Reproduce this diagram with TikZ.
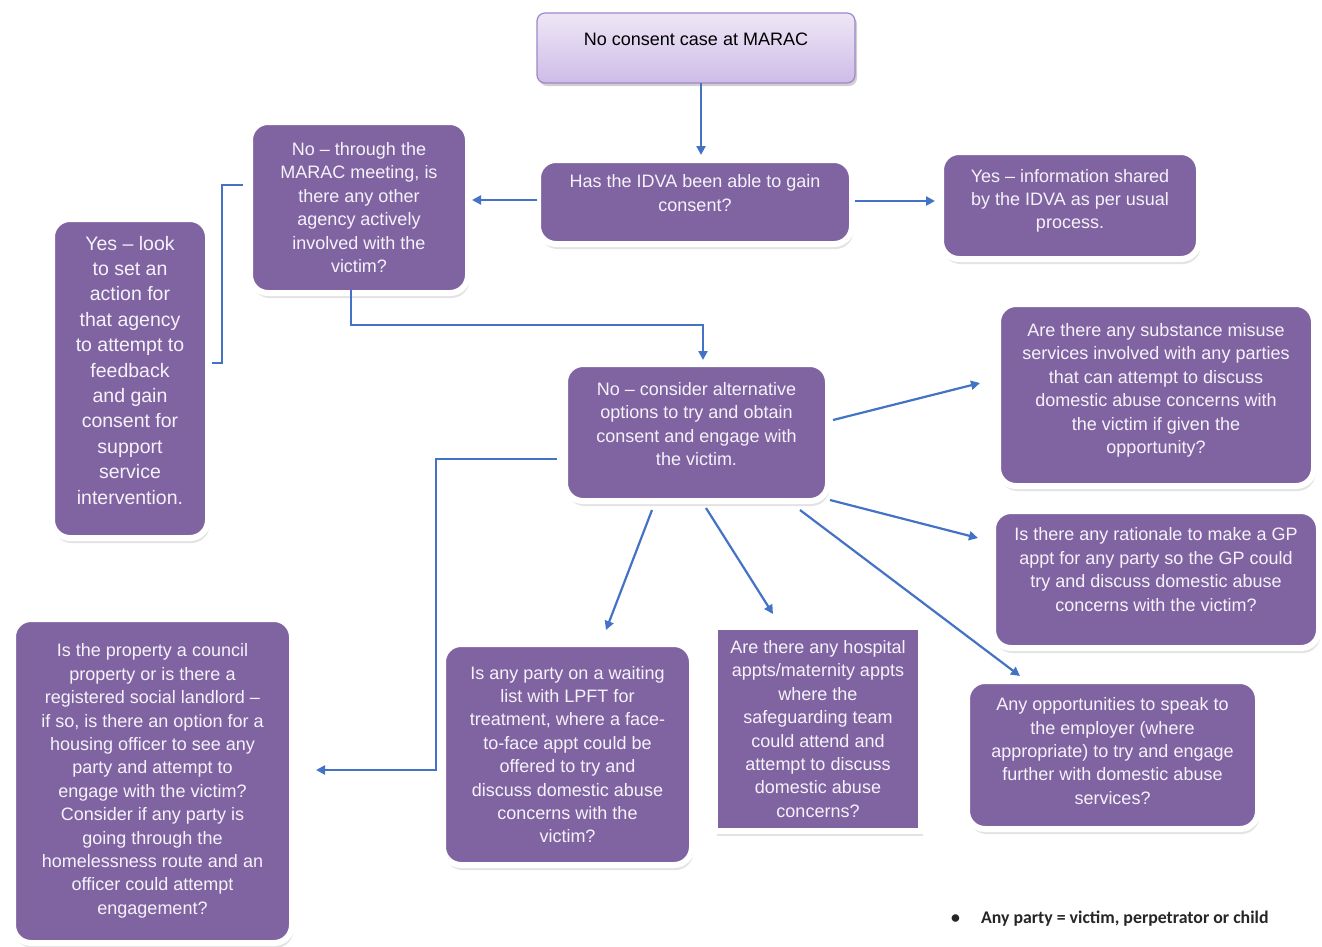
\documentclass[tikz,border=0pt]{standalone}
\usepackage{fontspec}
\setmainfont{Liberation Sans}
\newfontfamily\notefont{Carlito}
\usetikzlibrary{arrows.meta,calc,shadows}
\definecolor{boxpurple}{RGB}{128,100,162}
\definecolor{boxtext}{RGB}{246,242,250}
\definecolor{arrowblue}{RGB}{68,114,196}
\definecolor{topfillA}{RGB}{238,231,246}
\definecolor{topfillB}{RGB}{206,188,231}
\definecolor{topdraw}{RGB}{160,134,200}
% raise the text block of a node: extra depth on its last line
\newcommand\liftby[1]{\rule[-#1]{0pt}{1pt}}
\tikzset{
  pbox/.style={fill=boxpurple, draw=white, line width=6pt, rounded corners=18pt,
    text=boxtext, align=center, inner sep=0pt, outer sep=-3pt,
    font=\fontsize{18}{23.4}\selectfont,
    drop shadow={shadow xshift=1.5pt, shadow yshift=-5pt, opacity=0.18, fill=black!60}},
  sqbox/.style={pbox, rounded corners=0pt},
  topbox/.style={top color=topfillA, bottom color=topfillB, draw=topdraw, line width=1.2pt,
    rounded corners=8pt, align=center, inner sep=0pt, outer sep=0pt, text=black,
    font=\fontsize{18}{23.4}\selectfont,
    drop shadow={shadow xshift=2pt, shadow yshift=-3pt, opacity=0.3, fill=black!60}},
  conn/.style={draw=arrowblue, line width=2.2pt},
  arr/.style={conn, -{Triangle[length=9pt,width=9pt]}},
}
\begin{document}
\begin{tikzpicture}[x=1pt,y=-1pt]
\useasboundingbox[fill=white] (0,0) rectangle (1322,946);

\node[topbox, minimum width=318pt, minimum height=70pt] (top) at (696,48) {No consent case at MARAC\liftby{18pt}};

\node[pbox, minimum width=314pt, minimum height=84pt] (idva) at (695,202)
  {Has the IDVA been able to gain\\consent?\liftby{18pt}};
\node[pbox, minimum width=258pt, minimum height=107pt] (yes) at (1070,205.5)
  {Yes – information shared\\by the IDVA as per usual\\process.\liftby{13pt}};
\node[pbox, minimum width=218pt, minimum height=171pt] (q1) at (359,207.5)
  {No – through the\\MARAC meeting, is\\there any other\\agency actively\\involved with the\\victim?};
\node[pbox, minimum width=156pt, minimum height=319pt, font=\fontsize{19.5}{25.4}\selectfont] (yl) at (130,378.5)
  {Yes – look\\to set an\\action for\\that agency\\to attempt to\\feedback\\and gain\\consent for\\support\\service\\intervention.\liftby{17pt}};
\node[pbox, minimum width=263pt, minimum height=137pt] (nc) at (696.5,432.5)
  {No – consider alternative\\options to try and obtain\\consent and engage with\\the victim.\liftby{17pt}};
\node[pbox, minimum width=316pt, minimum height=182pt] (sub) at (1156,395)
  {Are there any substance misuse\\services involved with any parties\\that can attempt to discuss\\domestic abuse concerns with\\the victim if given the\\opportunity?\liftby{13pt}};
\node[pbox, minimum width=326pt, minimum height=137pt] (gp) at (1156,579.5)
  {Is there any rationale to make a GP\\appt for any party so the GP could\\try and discuss domestic abuse\\concerns with the victim?\liftby{20pt}};
\node[pbox, minimum width=291pt, minimum height=148pt] (emp) at (1112.5,755)
  {Any opportunities to speak to\\the employer (where\\appropriate) to try and engage\\further with domestic abuse\\services?\liftby{8pt}};
\node[sqbox, minimum width=206pt, minimum height=204pt] (hosp) at (818,729)
  {Are there any hospital\\appts/maternity appts\\where the\\safeguarding team\\could attend and\\attempt to discuss\\domestic abuse\\concerns?};
\node[pbox, minimum width=249pt, minimum height=221pt] (lpft) at (567.5,754.5)
  {Is any party on a waiting\\list with LPFT for\\treatment, where a face-\\to-face appt could be\\offered to try and\\discuss domestic abuse\\concerns with the\\victim?};
\node[pbox, minimum width=279pt, minimum height=324pt] (co) at (152.5,781)
  {Is the property a council\\property or is there a\\registered social landlord –\\if so, is there an option for a\\housing officer to see any\\party and attempt to\\engage with the victim?\\Consider if any party is\\going through the\\homelessness route and an\\officer could attempt\\engagement?};

\node[anchor=west, inner sep=0pt, font=\notefont\bfseries\fontsize{17.8}{20}\selectfont, text=black!85] (note) at (951,919)
  {\textbullet\hspace{21pt}Any party = victim, perpetrator or child};

% connectors
\draw[arr] ($(top.south)+(5,0)$) -- ($(idva.north)+(6,-8)$);
\draw[arr] ($(idva.west)+(-4,-2)$) -- ($(idva.west -| q1.east)+(7,-2)$);
\draw[arr] ($(idva.east)+(6,-1)$) -- ($(idva.east -| yes.west)+(-9,-1)$);
\draw[arr] ($(q1.south)+(-8,0)$) |- ($(nc.north)+(6.5,-42)$) -- ($(nc.north)+(6.5,-7)$);
\draw[conn, line width=1.6pt] ($(q1.west)+(-10,-22.5)$) -| ($(yl.east)+(17,-15.5)$) -- ($(yl.east)+(7,-15.5)$);
\draw[arr] ($(nc.east)+(8,-12.5)$) -- ($(sub.west)+(-21,-12)$);
\draw[arr] ($(nc.south east)+(5,2)$) -- ($(gp.west)+(-18,-41.5)$);
\draw[arr] ($(nc.south)+(103.5,12)$) -- ($(emp.north)+(-92.5,-8)$);
\draw[arr] ($(nc.south)+(9.5,10)$) -- ($(hosp.north)+(-45,-16)$);
\draw[arr] ($(nc.south)+(-44.5,12)$) -- ($(lpft.north)+(38.5,-17)$);
\draw[arr] ($(nc.west)+(-11,26.5)$) -| ($(co.east)+(147,-11)$) -- ($(co.east)+(27,-11)$);
\end{tikzpicture}
\end{document}
